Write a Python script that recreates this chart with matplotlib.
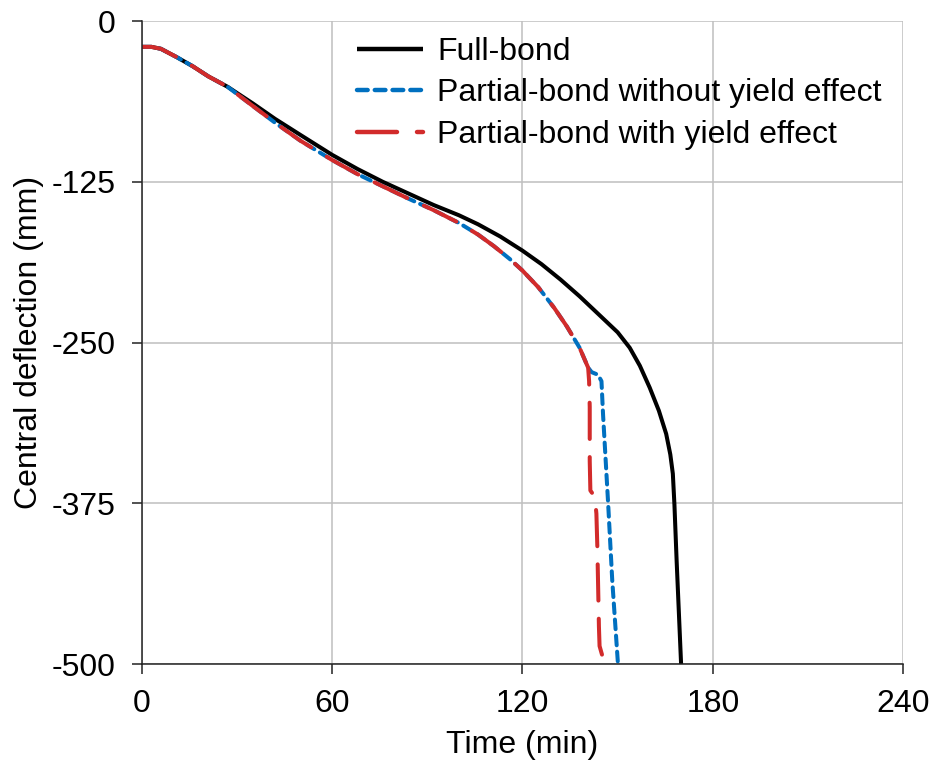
import matplotlib.pyplot as plt

plt.rcParams['font.family'] = ['Liberation Sans', 'DejaVu Sans']
plt.rcParams['axes.unicode_minus'] = False

# full-bond deflection history
t_full = [0, 3, 6, 11, 16, 21, 27, 35, 42, 50, 60, 68, 76, 84, 92, 100, 106,
          113, 120, 126, 132, 138, 144, 150, 153.8, 157, 160.1, 163, 165.3,
          166.6, 167.4, 167.9, 168.6, 169.3, 170]
d_full = [-20, -20, -21.5, -28, -35, -43, -51, -64, -76, -88.5, -104, -115,
          -125, -134, -143, -151, -158, -167.5, -178.5, -189, -201, -214, -228,
          -242, -254, -268, -285, -303, -321, -337, -352, -376, -420, -460,
          -500]

# partial-bond, no yield effect
t_noyield = [0, 3, 6, 11, 16, 21, 27, 35, 42, 50, 60, 68, 76, 84, 92, 100,
             106, 111, 116, 120, 125, 130, 134, 138, 140.7, 141.8, 143.8, 144.9,
             145.4, 147, 148.3, 150.1]
d_noyield = [-20, -20, -21.5, -28, -35, -43, -51, -66, -79, -93, -108, -119,
             -128.5, -138, -147, -157, -166, -175, -185, -194, -207, -223,
             -237.5, -254, -269.5, -273, -275, -280, -306, -375, -435, -500]

# partial-bond with yield effect
t_yield = [0, 3, 6, 11, 16, 21, 27, 35, 42, 50, 60, 68, 76, 84, 92, 100, 106,
           111, 116, 120, 125, 130, 134, 138, 140.7, 141.0, 141.2, 141.2, 141.4,
           142.8, 143.3, 143.6, 144.1, 144.3, 145.9]
d_yield = [-20, -20, -21.5, -28, -35, -43, -51, -66, -79, -93, -108, -119,
           -128.5, -138, -147, -157, -166, -175, -185, -194, -207, -223,
           -237.5, -254, -269.5, -280, -300, -342, -365, -370, -383, -409,
           -471, -486, -500]

x_ticks = [0, 60, 120, 180, 240]
y_ticks = [0, -125, -250, -375, -500]

fig = plt.figure(figsize=(9.33, 7.69), dpi=100)
ax = fig.add_axes([0.152, 0.1365, 0.816, 0.836])

ax.plot(t_full, d_full, color='black', lw=2.9, label='Full-bond',
        solid_capstyle='butt')
ax.plot(t_noyield, d_noyield, color='#0070C0', lw=2.9, dashes=(2.4, 1.6),
        dash_capstyle='round', label='Partial-bond without yield effect')
ax.plot(t_yield, d_yield, color='#D22B2B', lw=2.9, dashes=(9, 4.5),
        dash_capstyle='round', label='Partial-bond with yield effect')

ax.set_xlim(0, 240)
ax.set_ylim(-500, 0)
ax.set_xticks(x_ticks)
ax.set_yticks(y_ticks)
ax.grid(True, color='#BFBFBF', lw=1.1)
ax.set_axisbelow(True)
for s in ['top', 'right']:
    ax.spines[s].set_visible(False)
for s in ['left', 'bottom']:
    ax.spines[s].set_color('#222222')
    ax.spines[s].set_linewidth(1.1)
ax.tick_params(labelsize=23, length=7, width=1.1, color='#222222')
ax.tick_params(axis='y', pad=12)
ax.tick_params(axis='x', pad=11)
ax.set_xlabel('Time (min)', fontsize=23, labelpad=8)
ax.set_ylabel('Central deflection (mm)', fontsize=23, labelpad=5)

leg = ax.legend(loc='upper left', bbox_to_anchor=(0.256, 1.008),
                frameon=False, fontsize=23, handlelength=2.05,
                handletextpad=0.45, labelspacing=0.36, borderpad=0.15)
for h in leg.get_lines():
    h.set_linewidth(3.2)

fig.savefig('out.png', dpi=100)
